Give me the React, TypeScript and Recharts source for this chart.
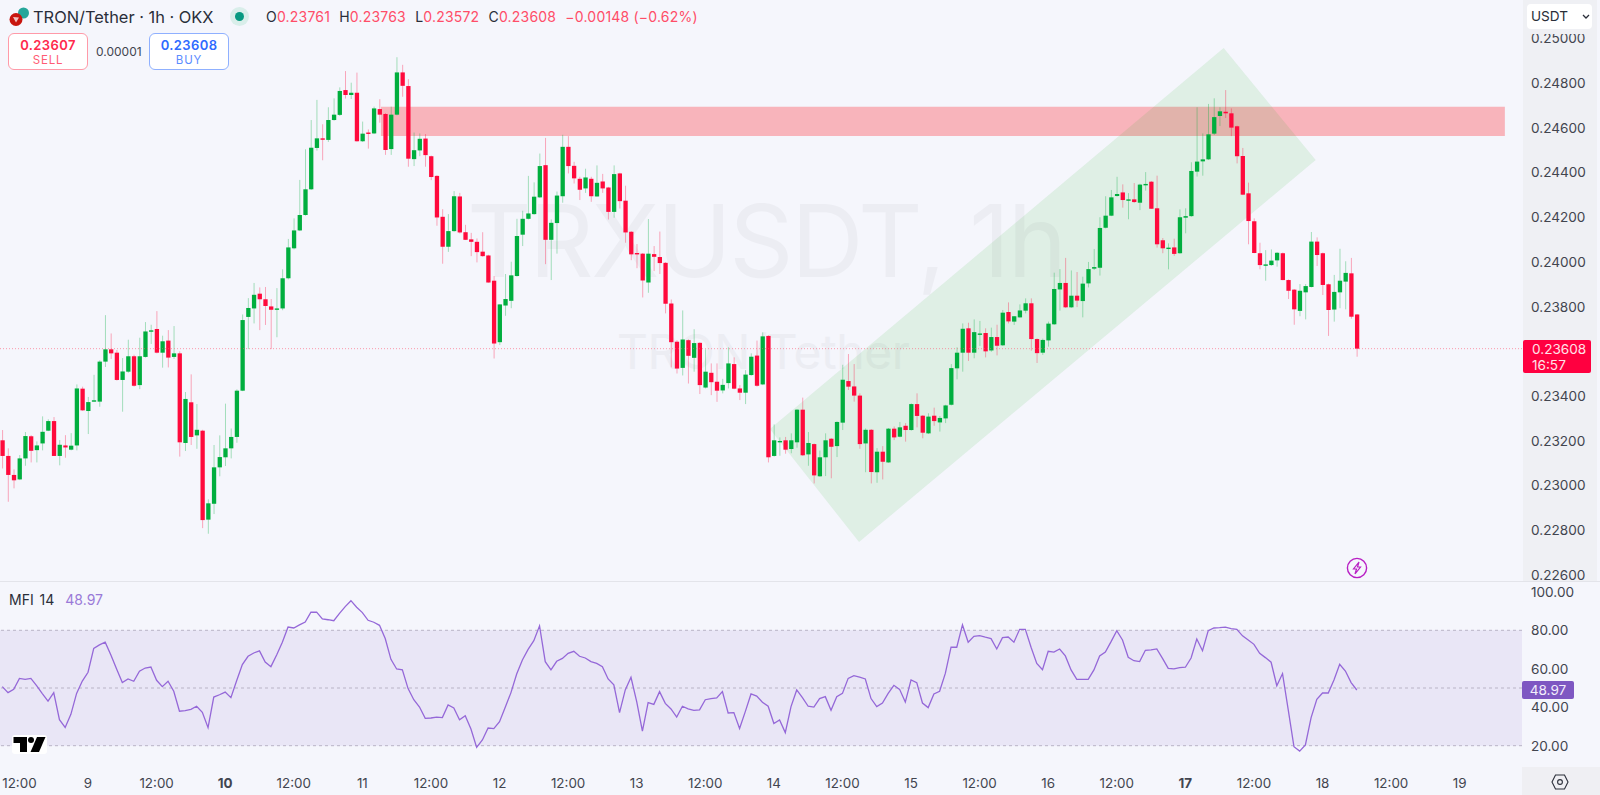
import React from 'react';
import {
  ComposedChart,
  Bar,
  Line,
  XAxis,
  YAxis,
  ReferenceArea,
  ReferenceLine,
} from 'recharts';

// prices are in 0.00001 USDT, one entry per hourly candle
const opens = [
  23198, 23128, 23043, 23023, 23117, 23216, 23154, 23184, 23241, 23284,
  23128, 23175, 23156, 23175, 23429, 23329, 23374, 23371, 23550, 23605,
  23590, 23468, 23505, 23574, 23445, 23571, 23687, 23696, 23590, 23644,
  23571, 23587, 23186, 23368, 23220, 23241, 22843, 22914, 23077, 23122,
  23162, 23213, 23420, 23750, 23788, 23854, 23829, 23797, 23784, 23788,
  23923, 24057, 24137, 24206, 24321, 24506, 24549, 24542, 24631, 24654,
  24765, 24743, 24753, 24536, 24575, 24571, 24680, 24658, 24501, 24655,
  24844, 24783, 24456, 24495, 24548, 24469, 24381, 24198, 24064, 24134,
  24289, 24129, 24097, 24086, 24042, 24025, 23912, 23637, 23801, 23822,
  23933, 24118, 24189, 24210, 24285, 24429, 24095, 24170, 24290, 24511,
  24426, 24368, 24325, 24368, 24289, 24356, 24329, 24220, 24392, 24270,
  24131, 24036, 24033, 23904, 24031, 24018, 23992, 23810, 23639, 23522,
  23646, 23567, 23634, 23434, 23500, 23460, 23421, 23454, 23539, 23430,
  23411, 23490, 23577, 23448, 23665, 23128, 23192, 23198, 23159, 23189,
  23335, 23135, 23181, 23037, 23122, 23205, 23172, 23277, 23463, 23439,
  23398, 23184, 23245, 23055, 23147, 23099, 23250, 23214, 23263, 23244,
  23360, 23308, 23229, 23308, 23278, 23296, 23357, 23520, 23590, 23699,
  23590, 23673, 23678, 23600, 23660, 23623, 23772, 23729, 23748, 23778,
  23811, 23651, 23590, 23645, 23717, 23873, 23902, 23793, 23845, 23821,
  23900, 23966, 23970, 24149, 24203, 24291, 24307, 24272, 24276, 24261,
  24340, 24355, 24236, 24093, 24057, 24061, 24035, 24194, 24201, 24400,
  24446, 24455, 24570, 24649, 24668, 24661, 24603, 24470, 24303, 24178,
  24035, 23981, 23982, 24003, 24035, 23915, 23872, 23777, 23860, 23884,
  24087, 24035, 23896, 23783, 23860, 23908, 23945, 23761,
];
const highs = [
  23244, 23162, 23068, 23132, 23235, 23221, 23193, 23305, 23292, 23302,
  23199, 23221, 23230, 23448, 23438, 23392, 23491, 23556, 23758, 23676,
  23602, 23566, 23648, 23581, 23657, 23727, 23715, 23776, 23666, 23691,
  23709, 23596, 23414, 23493, 23360, 23245, 22934, 23177, 23220, 23362,
  23251, 23426, 23761, 23834, 23902, 23882, 23884, 23830, 23879, 23963,
  24099, 24191, 24363, 24500, 24631, 24721, 24612, 24688, 24728, 24777,
  24850, 24798, 24843, 24624, 24589, 24691, 24724, 24662, 24691, 24912,
  24878, 24814, 24575, 24571, 24568, 24472, 24384, 24232, 24210, 24313,
  24305, 24162, 24126, 24101, 24129, 24028, 23933, 23807, 23942, 23997,
  24189, 24225, 24381, 24352, 24481, 24551, 24186, 24311, 24565, 24559,
  24444, 24377, 24413, 24377, 24428, 24390, 24332, 24428, 24395, 24337,
  24134, 24076, 24036, 24188, 24067, 24132, 23995, 23828, 23646, 23779,
  23650, 23695, 23637, 23605, 23542, 23542, 23473, 23614, 23569, 23445,
  23512, 23587, 23644, 23681, 23668, 23269, 23211, 23213, 23229, 23338,
  23389, 23235, 23184, 23152, 23229, 23208, 23283, 23536, 23584, 23539,
  23408, 23251, 23248, 23163, 23172, 23253, 23260, 23280, 23275, 23363,
  23408, 23311, 23319, 23344, 23307, 23357, 23539, 23614, 23721, 23724,
  23739, 23732, 23699, 23702, 23715, 23781, 23815, 23754, 23806, 23833,
  23833, 23654, 23653, 23729, 23948, 23964, 24014, 23958, 23951, 23930,
  23996, 24054, 24196, 24290, 24318, 24377, 24343, 24304, 24349, 24346,
  24398, 24358, 24382, 24103, 24079, 24100, 24231, 24236, 24442, 24688,
  24571, 24703, 24728, 24688, 24765, 24683, 24606, 24506, 24351, 24191,
  24082, 24049, 24052, 24040, 24038, 23918, 23875, 23897, 23897, 24130,
  24106, 24038, 23899, 23938, 24055, 23999, 24014, 23763,
];
const lows = [
  23072, 22923, 22983, 23020, 23084, 23099, 23099, 23153, 23239, 23128,
  23086, 23120, 23153, 23153, 23330, 23226, 23371, 23348, 23526, 23562,
  23465, 23326, 23500, 23438, 23427, 23568, 23629, 23587, 23523, 23524,
  23562, 23125, 23150, 23177, 23160, 22805, 22780, 22868, 23037, 23083,
  23117, 23187, 23418, 23606, 23721, 23691, 23714, 23606, 23659, 23780,
  23918, 24052, 24134, 24203, 24318, 24494, 24451, 24533, 24628, 24649,
  24727, 24725, 24534, 24533, 24503, 24568, 24619, 24475, 24475, 24652,
  24735, 24422, 24425, 24469, 24422, 24362, 24158, 23988, 24041, 24131,
  24123, 24094, 24022, 23994, 24019, 23903, 23564, 23624, 23755, 23789,
  23930, 24067, 24186, 24207, 24282, 23986, 23915, 24033, 24261, 24392,
  24347, 24273, 24305, 24265, 24288, 24305, 24186, 24194, 24235, 24082,
  24004, 23968, 23837, 23858, 23955, 23942, 23766, 23524, 23497, 23488,
  23452, 23505, 23405, 23430, 23400, 23370, 23408, 23430, 23426, 23378,
  23360, 23487, 23438, 23445, 23099, 23125, 23129, 23138, 23140, 23165,
  23128, 23084, 23005, 23034, 23038, 23028, 23123, 23244, 23423, 23371,
  23160, 23055, 23005, 23008, 23023, 23097, 23199, 23211, 23192, 23241,
  23256, 23207, 23226, 23263, 23237, 23275, 23354, 23471, 23505, 23553,
  23565, 23620, 23569, 23594, 23578, 23620, 23721, 23714, 23747, 23766,
  23599, 23544, 23580, 23617, 23714, 23778, 23790, 23790, 23794, 23748,
  23882, 23960, 23935, 24146, 24201, 24288, 24239, 24187, 24260, 24228,
  24315, 24233, 24060, 24035, 23963, 24023, 24032, 24124, 24198, 24378,
  24382, 24452, 24564, 24604, 24640, 24559, 24437, 24295, 24075, 24035,
  23963, 23912, 23978, 23975, 23914, 23830, 23715, 23753, 23739, 23882,
  23978, 23848, 23665, 23729, 23789, 23784, 23742, 23572,
];
const closes = [
  23128, 23043, 23019, 23117, 23217, 23151, 23175, 23236, 23284, 23128,
  23178, 23166, 23174, 23430, 23332, 23369, 23377, 23550, 23605, 23587,
  23468, 23506, 23574, 23442, 23574, 23685, 23690, 23590, 23641, 23568,
  23587, 23189, 23383, 23213, 23245, 22841, 22916, 23077, 23123, 23162,
  23213, 23420, 23736, 23790, 23849, 23829, 23799, 23782, 23788, 23923,
  24061, 24137, 24206, 24321, 24507, 24549, 24545, 24631, 24655, 24761,
  24743, 24753, 24536, 24570, 24570, 24683, 24655, 24497, 24655, 24844,
  24784, 24458, 24496, 24547, 24474, 24376, 24195, 24064, 24134, 24290,
  24128, 24095, 24086, 24040, 24022, 23904, 23631, 23806, 23830, 23936,
  24112, 24189, 24213, 24288, 24425, 24095, 24171, 24293, 24511, 24425,
  24370, 24319, 24374, 24290, 24350, 24325, 24220, 24389, 24268, 24128,
  24030, 24033, 23913, 24033, 24019, 23991, 23809, 23637, 23519, 23649,
  23576, 23633, 23445, 23505, 23458, 23420, 23446, 23542, 23429, 23411,
  23492, 23572, 23442, 23663, 23122, 23198, 23195, 23156, 23198, 23335,
  23131, 23186, 23041, 23122, 23198, 23169, 23280, 23469, 23438, 23398,
  23181, 23245, 23056, 23147, 23102, 23250, 23211, 23256, 23244, 23360,
  23307, 23232, 23304, 23284, 23298, 23354, 23521, 23590, 23697, 23590,
  23682, 23676, 23596, 23660, 23621, 23769, 23730, 23753, 23779, 23811,
  23651, 23588, 23647, 23720, 23875, 23902, 23793, 23845, 23823, 23899,
  23964, 23973, 24148, 24203, 24285, 24300, 24273, 24276, 24264, 24342,
  24345, 24234, 24075, 24057, 24060, 24032, 24196, 24201, 24403, 24445,
  24455, 24567, 24644, 24670, 24661, 24597, 24469, 24297, 24179, 24036,
  23982, 23985, 24002, 24037, 23915, 23867, 23784, 23867, 23888, 24087,
  24027, 23893, 23781, 23862, 23912, 23947, 23751, 23608,
];
const mfiValues = [
  50.7, 47.6, 49.3, 55.0, 54.5, 55.0, 51.2, 47.1, 43.2, 47.6,
  33.5, 29.5, 36.3, 47.2, 53.6, 58.2, 70.6, 72.4, 73.8, 67.2,
  59.9, 52.8, 54.7, 53.5, 58.7, 60.4, 60.9, 54.0, 50.7, 53.5,
  48.3, 37.9, 38.2, 38.9, 40.5, 37.4, 29.4, 45.3, 46.5, 47.9,
  45.0, 53.8, 62.2, 66.5, 68.2, 69.3, 63.5, 61.1, 67.2, 73.8,
  81.7, 81.2, 82.8, 84.3, 89.4, 89.5, 85.9, 85.5, 85.0, 88.8,
  92.3, 95.4, 92.0, 89.2, 85.2, 84.2, 82.6, 75.7, 64.9, 59.9,
  59.5, 49.7, 43.9, 40.1, 34.2, 34.4, 34.9, 34.6, 41.2, 39.6,
  33.5, 35.6, 28.7, 19.1, 23.0, 29.2, 28.9, 32.5, 40.0, 47.6,
  57.3, 64.6, 70.1, 74.6, 82.3, 63.7, 59.4, 63.9, 65.4, 68.0,
  69.1, 66.5, 65.6, 63.7, 62.8, 61.1, 54.7, 51.6, 37.2, 49.0,
  55.6, 42.9, 27.6, 42.4, 41.5, 48.1, 42.0, 39.1, 34.9, 40.5,
  39.1, 38.4, 38.6, 43.9, 44.5, 44.8, 48.1, 37.0, 37.2, 28.9,
  37.7, 46.9, 45.8, 42.6, 40.5, 31.5, 33.4, 26.8, 40.3, 49.0,
  45.0, 40.5, 40.1, 44.5, 45.5, 38.4, 45.5, 47.2, 55.0, 56.4,
  55.6, 54.7, 44.5, 40.3, 42.2, 47.2, 51.4, 49.3, 42.7, 54.2,
  52.8, 42.2, 39.8, 46.9, 48.3, 57.6, 71.2, 71.2, 82.8, 73.8,
  76.9, 77.2, 76.4, 75.7, 70.3, 76.2, 76.5, 73.8, 80.5, 80.5,
  71.2, 62.8, 59.5, 69.1, 68.7, 70.3, 66.7, 59.4, 54.5, 54.5,
  54.5, 59.4, 66.7, 68.7, 74.1, 79.8, 75.0, 66.0, 64.2, 63.7,
  69.6, 69.8, 70.3, 65.4, 60.2, 59.9, 60.6, 60.8, 65.6, 75.5,
  69.4, 79.8, 81.2, 81.4, 81.7, 80.9, 80.5, 77.1, 75.0, 72.7,
  68.0, 65.8, 63.4, 51.2, 57.5, 38.6, 19.5, 17.2, 20.4, 34.6,
  44.1, 47.4, 47.4, 54.2, 62.3, 58.8, 52.8, 48.97,
];

// 0.23600 sits behind the last price tag in the reference, so it is left out
const priceTicks = [22600, 22800, 23000, 23200, 23400, 23800, 24000, 24200, 24400, 24600, 24800, 25000];
const mfiTicks = [20, 40, 60, 80, 100];
const mfiLevels = [80, 50, 20];
const timeTickIndex = [3, 15, 27, 39, 51, 63, 75, 87, 99, 111, 123, 135, 147, 159, 171, 183, 195, 207, 219, 231, 243, 255];
const timeTickLabels = ['12:00', '9', '12:00', '10', '12:00', '11', '12:00', '12', '12:00', '13', '12:00', '14', '12:00', '15', '12:00', '16', '12:00', '17', '12:00', '18', '12:00', '19'];
const boldLabels = ['10', '17'];

// drawings on the price pane, in candle index / price
const zoneFrom = 66.25;
const zoneTo = 262.9;
const zoneLow = 24559;
const zoneHigh = 24690;
const channelIndex = [213.7, 229.8, 149.9, 134.3];
const channelPrice = [24953, 24452, 22743, 23248];
const lastPrice = 23608;

const GREEN = '#00ae3e';
const RED = '#ff0a3c';
const BG = '#f5f6fc';
const AXIS_TEXT = '#42454f';
const PURPLE = '#7e57c2';
const FONT = 'Inter, sans-serif';

const indexDomain = [-0.402, 265.9];

const candles = opens.map((open, i) => ({
  i,
  open,
  high: highs[i],
  low: lows[i],
  close: closes[i],
  range: [lows[i], highs[i]],
}));
const mfiData = mfiValues.map((mfi, i) => ({ i, mfi }));

const Candle = (props: any) => {
  const { x, y, width, height, payload } = props;
  const { open, high, low, close } = payload;
  const color = close >= open ? GREEN : RED;
  const perUnit = height / (high - low);
  const top = y + (high - Math.max(open, close)) * perUnit;
  const bottom = y + (high - Math.min(open, close)) * perUnit;
  const center = x + width / 2;
  return (
    <g>
      <line x1={center} x2={center} y1={y} y2={y + height} stroke={color} strokeOpacity={0.34} strokeWidth={1} />
      <rect x={x} y={top} width={width} height={Math.max(bottom - top, 1.4)} fill={color} />
    </g>
  );
};

// the channel is a rotated rectangle, mapped into the bounding box of its corners
const ChannelShape = (props: any) => {
  const { x, y, width, height } = props;
  const minI = Math.min(...channelIndex);
  const maxI = Math.max(...channelIndex);
  const minP = Math.min(...channelPrice);
  const maxP = Math.max(...channelPrice);
  const points = channelIndex
    .map((ci, n) => {
      const px = x + ((ci - minI) / (maxI - minI)) * width;
      const py = y + ((maxP - channelPrice[n]) / (maxP - minP)) * height;
      return `${px},${py}`;
    })
    .join(' ');
  return <polygon points={points} fill="#20b020" fillOpacity={0.1} />;
};

const TimeTick = (props: any) => {
  const { x, y, payload } = props;
  const label = timeTickLabels[timeTickIndex.indexOf(payload.value)];
  return (
    <text
      x={x}
      y={y}
      textAnchor="middle"
      fontFamily={FONT}
      fontSize={13.4}
      fontWeight={boldLabels.includes(label) ? 700 : 400}
      fill={AXIS_TEXT}
    >
      {label}
    </text>
  );
};

const abs = (left: number, top: number, extra: React.CSSProperties = {}): React.CSSProperties => ({
  position: 'absolute',
  left,
  top,
  fontFamily: FONT,
  whiteSpace: 'nowrap',
  ...extra,
});

const Header = () => (
  <>
    <svg style={abs(8, 6)} width={22} height={22} viewBox="0 0 22 22">
      <circle cx={15.5} cy={7} r={5.5} fill="#26a69a" />
      <circle cx={8} cy={13.5} r={6.5} fill="#c8160e" />
      <path d="M5 11 L11 11.5 L8 16.5 Z" fill="#fff" opacity={0.75} />
    </svg>
    <div style={abs(33, 7, { fontSize: 16.4, lineHeight: '20px', color: '#2a2e39' })}>TRON/Tether · 1h · OKX</div>
    <div style={abs(230, 7, { width: 19, height: 19, borderRadius: 10, background: '#d9eeea' })} />
    <div style={abs(235, 12, { width: 9, height: 9, borderRadius: 5, background: '#089981' })} />
    <div style={abs(266, 8, { fontSize: 14, lineHeight: '18px', color: '#ff4d68', letterSpacing: 0.2 })}>
      <span style={{ color: '#2a2e39' }}>O</span>0.23761{' '}
      <span style={{ color: '#2a2e39', marginLeft: 5 }}>H</span>0.23763{' '}
      <span style={{ color: '#2a2e39', marginLeft: 5 }}>L</span>0.23572{' '}
      <span style={{ color: '#2a2e39', marginLeft: 5 }}>C</span>0.23608{' '}
      <span style={{ marginLeft: 5 }}>−0.00148 (−0.62%)</span>
    </div>
    <div
      style={abs(8, 33, {
        width: 78,
        height: 35,
        background: '#fff',
        border: '1px solid #ff9aa8',
        borderRadius: 6,
        textAlign: 'center',
        color: '#ff2a4d',
      })}
    >
      <div style={{ fontSize: 13, fontWeight: 600, lineHeight: '14px', marginTop: 4, letterSpacing: 0.4 }}>0.23607</div>
      <div style={{ fontSize: 11.5, lineHeight: '14px', marginTop: 1, color: '#ff5c74', letterSpacing: 0.8 }}>SELL</div>
    </div>
    <div style={abs(96, 44, { fontSize: 12, lineHeight: '15px', color: '#42454f' })}>0.00001</div>
    <div
      style={abs(149, 33, {
        width: 78,
        height: 35,
        background: '#fff',
        border: '1px solid #8fb0ff',
        borderRadius: 6,
        textAlign: 'center',
        color: '#2f6bff',
      })}
    >
      <div style={{ fontSize: 13, fontWeight: 600, lineHeight: '14px', marginTop: 4, letterSpacing: 0.4 }}>0.23608</div>
      <div style={{ fontSize: 11.5, lineHeight: '14px', marginTop: 1, color: '#5c8cff', letterSpacing: 0.8 }}>BUY</div>
    </div>
  </>
);

const RightSide = () => (
  <>
    <div style={abs(1523, 0, { width: 74, height: 34, background: '#eff0f4' })} />
    <div style={abs(1527, 4, { width: 65, height: 25, background: '#fff', borderRadius: 4 })} />
    <div style={abs(1531, 8, { fontSize: 13.6, lineHeight: '17px', color: '#2a2e39' })}>USDT</div>
    <svg style={abs(1582, 14)} width={8} height={6} viewBox="0 0 8 6">
      <path d="M1 1 L4 4 L7 1" fill="none" stroke="#2a2e39" strokeWidth={1.3} />
    </svg>
    <div
      style={abs(1523, 340, {
        width: 68,
        height: 33,
        background: '#ff0040',
        borderRadius: 2,
        color: '#ffe3e8',
        fontSize: 13.6,
        lineHeight: '16px',
      })}
    >
      <div style={{ paddingLeft: 9, paddingTop: 1 }}>0.23608</div>
      <div style={{ paddingLeft: 9 }}>16:57</div>
    </div>
    <div
      style={abs(1522, 681, {
        width: 52,
        height: 18,
        background: PURPLE,
        borderRadius: 2,
        color: '#f3eefc',
        fontSize: 13.6,
        lineHeight: '18px',
        textAlign: 'center',
      })}
    >
      48.97
    </div>
    <div style={abs(1522, 767, { width: 78, height: 28, background: '#efeff3' })} />
    <svg style={abs(1550, 772)} width={20} height={20} viewBox="0 0 20 20">
      <path d="M5.5 3 H14.5 L18 10 L14.5 17 H5.5 L2 10 Z" fill="none" stroke="#2a2e39" strokeWidth={1.1} />
      <circle cx={10} cy={10} r={2.4} fill="none" stroke="#2a2e39" strokeWidth={1.1} />
    </svg>
    <svg style={abs(1346, 557)} width={22} height={22} viewBox="0 0 22 22">
      <circle cx={11} cy={11} r={9.6} fill="none" stroke="#b81fc4" strokeWidth={1.4} />
      <path d="M13 5 L7.5 12 H10.5 L9 17 L14.5 10 H11.5 Z" fill="none" stroke="#b81fc4" strokeWidth={1.2} />
    </svg>
  </>
);

const PriceChart = () => (
  <ComposedChart width={1600} height={582} data={candles} margin={{ top: 0, right: 0, bottom: 0, left: 0 }}>
    <XAxis dataKey="i" type="number" domain={indexDomain} allowDataOverflow hide />
    <YAxis
      orientation="right"
      width={78}
      domain={[22564, 25168]}
      allowDataOverflow
      ticks={priceTicks}
      interval={0}
      axisLine={false}
      tickLine={false}
      tickMargin={3}
      tickFormatter={(v: number) => (v / 100000).toFixed(5)}
      tick={{ fontSize: 13.6, fill: AXIS_TEXT, fontFamily: FONT, dy: 1 }}
    />
    <ReferenceArea
      x1={zoneFrom}
      x2={zoneTo}
      y1={zoneLow}
      y2={zoneHigh}
      fill="#ff1a26"
      fillOpacity={0.3}
      stroke="none"
      ifOverflow="visible"
    />
    <ReferenceArea
      x1={Math.min(...channelIndex)}
      x2={Math.max(...channelIndex)}
      y1={Math.min(...channelPrice)}
      y2={Math.max(...channelPrice)}
      shape={ChannelShape}
      ifOverflow="visible"
    />
    <ReferenceLine y={lastPrice} stroke="#ff5c74" strokeOpacity={0.6} strokeDasharray="1 2" strokeWidth={1} />
    <Bar dataKey="range" barSize={4.3} shape={Candle} isAnimationActive={false} />
  </ComposedChart>
);

const MfiChart = () => (
  <ComposedChart width={1600} height={213} data={mfiData} margin={{ top: 0, right: 0, bottom: 0, left: 0 }}>
    <XAxis
      dataKey="i"
      type="number"
      domain={indexDomain}
      allowDataOverflow
      ticks={timeTickIndex}
      interval={0}
      height={28}
      axisLine={false}
      tickLine={false}
      tick={TimeTick}
      tickMargin={15}
    />
    <YAxis
      orientation="right"
      width={78}
      domain={[8.92, 105.12]}
      allowDataOverflow
      ticks={mfiTicks}
      interval={0}
      axisLine={false}
      tickLine={false}
      tickMargin={3}
      tickFormatter={(v: number) => v.toFixed(2)}
      tick={{ fontSize: 13.6, fill: AXIS_TEXT, fontFamily: FONT }}
    />
    <ReferenceArea y1={20} y2={80} fill={PURPLE} fillOpacity={0.1} stroke="none" />
    {mfiLevels.map((level) => (
      <ReferenceLine key={level} y={level} stroke="#b9b4c6" strokeDasharray="3 3" strokeWidth={1} />
    ))}
    <Line dataKey="mfi" stroke="#9568d8" strokeWidth={1.3} dot={false} isAnimationActive={false} />
  </ComposedChart>
);

const App = () => (
  <div style={{ position: 'absolute', left: 0, top: 0, width: 1600, height: 795, background: BG, overflow: 'hidden' }}>
    <div style={abs(1523, 0, { width: 74, height: 582, background: '#eff0f4' })} />
    <div style={abs(467, 176, { fontSize: 100, lineHeight: '130px', color: '#ecedf3', letterSpacing: -2.3 })}>TRXUSDT, 1h</div>
    <div style={abs(617, 322, { fontSize: 48, lineHeight: '60px', color: '#ecedf3', letterSpacing: -0.45 })}>TRON/Tether</div>
    <div style={abs(0, 0)}>
      <PriceChart />
    </div>
    <div style={abs(0, 581, { width: 1600, height: 1, background: '#e3e4ea' })} />
    <div style={abs(0, 582)}>
      <MfiChart />
    </div>
    <Header />
    <div style={abs(9, 591, { fontSize: 14, lineHeight: '18px', color: '#2a2e39', wordSpacing: 2 })}>
      MFI 14 <span style={{ color: '#9a7ad8', marginLeft: 5 }}>48.97</span>
    </div>
    <svg style={abs(12, 735)} width={35} height={19} viewBox="0 0 35 19">
      <rect x={0} y={0} width={35} height={19} rx={3} fill="#fff" />
      <path d="M1.5 2 H15 V17 H8 V8 H1.5 Z" fill="#000" />
      <circle cx={19} cy={5} r={3} fill="#000" />
      <path d="M25 2 H33.5 L27 17 H18.5 Z" fill="#000" />
    </svg>
    <RightSide />
  </div>
);

export default App;
